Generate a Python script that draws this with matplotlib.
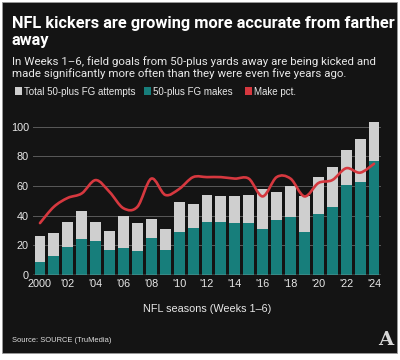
import matplotlib
matplotlib.use("Agg")
import matplotlib.pyplot as plt
from matplotlib.path import Path
from matplotlib.patches import PathPatch, Rectangle

# data (Weeks 1-6)
seasons = list(range(2000, 2025))
attempts = [26, 28, 36, 43, 36, 30, 40, 35, 38, 31, 49, 48, 54, 53, 53, 54, 58, 56, 60, 53, 66, 73, 84, 92, 103]
makes = [9, 13, 19, 24, 23, 17, 18, 16, 25, 17, 29, 32, 36, 36, 35, 35, 31, 37, 39, 29, 41, 46, 61, 63, 77]
make_pct = [35, 46, 52, 55, 64, 56, 45, 46, 65, 54, 58, 66, 66, 66, 65, 65, 53, 66, 65, 53, 62, 64, 72, 69, 75]
tick_years = seasons[::2]
tick_labels = ["2000"] + ["'%02d" % (y % 100) for y in tick_years[1:]]

BG = "#141414"
GRAY = "#cfcfcf"
TEAL = "#177e7b"
RED = "#d6383f"
FONT = ["Liberation Sans", "DejaVu Sans"]
HEAD = ["Roboto", "Liberation Sans", "DejaVu Sans"]

W, H = 400, 360
fig = plt.figure(figsize=(4, 3.6), dpi=100)
fig.patch.set_facecolor("white")
fig.patches.append(Rectangle((2 / W, 1 - 353 / H), 395 / W, 351 / H, transform=fig.transFigure,
                             facecolor=BG, edgecolor="#9a9a9a", linewidth=0.6, zorder=-5))

def px(x, y):
    return x / W, 1 - y / H

fig.text(*px(12, 28), "NFL kickers are growing more accurate from farther", color="white",
         fontsize=11.8, fontweight="bold", family=HEAD)
fig.text(*px(12, 45), "away", color="white", fontsize=11.8, fontweight="bold", family=HEAD)
fig.text(*px(12, 65), "In Weeks 1\u20136, field goals from 50-plus yards away are being kicked and",
         color="#e8e8e8", fontsize=8.25, family=HEAD)
fig.text(*px(12, 77), "made significantly more often than they were even five years ago.",
         color="#e8e8e8", fontsize=8.25, family=HEAD)

legend_items = [("Total 50-plus FG attempts", GRAY, 15), ("50-plus FG makes", TEAL, 144), ("Make pct.", RED, 245)]
for label, col, x0 in legend_items:
    fig.patches.append(Rectangle(px(x0, 95), 7 / W, 7.5 / H, transform=fig.transFigure,
                                 facecolor=col, edgecolor="none"))
    fig.text(*px(x0 + 9, 95), label, color="#e8e8e8", fontsize=7, family=FONT)

ax_left, ax_right = 33, 381
y0_px, per_unit = 275, 1.483
ymax = 105
ax = fig.add_axes([ax_left / W, 1 - y0_px / H, (ax_right - ax_left) / W, ymax * per_unit / H])
ax.set_facecolor("none")

x = list(range(len(seasons)))
ax.bar(x, attempts, width=0.78, color=GRAY, zorder=2)
ax.bar(x, makes, width=0.78, color=TEAL, zorder=3)

# smooth curve through the pct points (Catmull-Rom as cubic Beziers)
verts = [(x[0], make_pct[0])]
codes = [Path.MOVETO]
for i in range(len(x) - 1):
    p0 = (x[max(i - 1, 0)], make_pct[max(i - 1, 0)])
    p1 = (x[i], make_pct[i])
    p2 = (x[i + 1], make_pct[i + 1])
    p3 = (x[min(i + 2, len(x) - 1)], make_pct[min(i + 2, len(x) - 1)])
    c1 = (p1[0] + (p2[0] - p0[0]) / 6, p1[1] + (p2[1] - p0[1]) / 6)
    c2 = (p2[0] - (p3[0] - p1[0]) / 6, p2[1] - (p3[1] - p1[1]) / 6)
    verts += [c1, c2, p2]
    codes += [Path.CURVE4] * 3
ax.add_patch(PathPatch(Path(verts, codes), facecolor="none", edgecolor=RED, linewidth=1.9,
                       capstyle="round", joinstyle="round", zorder=4))

ax.set_xlim(-0.5, len(seasons) - 0.5)
ax.set_ylim(0, ymax)
ax.set_yticks([0, 20, 40, 60, 80, 100])
ax.set_xticks([seasons.index(y) for y in tick_years])
ax.set_xticklabels(tick_labels)
ax.grid(axis="y", color="#5a5a5a", linewidth=0.7, zorder=0)
ax.axhline(0, color="#bdbdbd", linewidth=1.0, zorder=5)
for s in ax.spines.values():
    s.set_visible(False)
ax.tick_params(length=0, colors="#e8e8e8", labelsize=7.8, pad=3)
for lab in ax.get_xticklabels() + ax.get_yticklabels():
    lab.set_family(FONT)
    lab.set_color("#e8e8e8")
ax.set_xlabel("NFL seasons (Weeks 1\u20136)", color="#e8e8e8", fontsize=7.8, family=FONT, labelpad=11)

fig.text(*px(12, 342), "Source: SOURCE (TruMedia)", color="#e0e0e0", fontsize=5.4, family=FONT)
fig.text(*px(386, 345), "A", color="#d8d8d8", fontsize=14, fontweight="bold", family=["DejaVu Serif"],
         ha="center")

fig.savefig("out.png", dpi=100, facecolor=fig.get_facecolor())
